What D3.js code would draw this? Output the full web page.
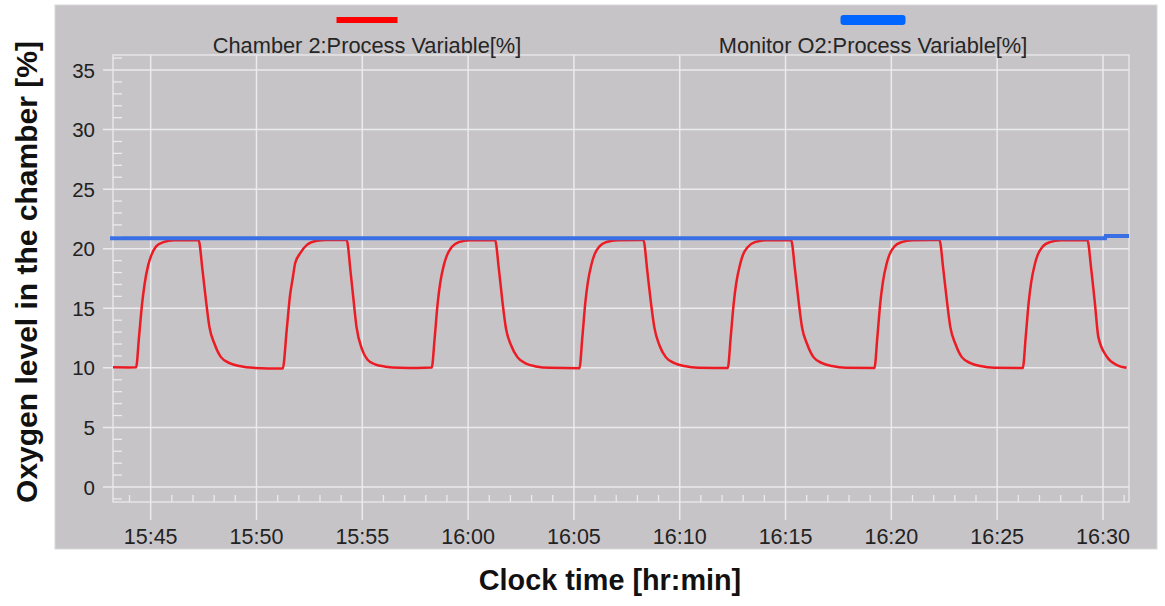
<!DOCTYPE html>
<html>
<head>
<meta charset="utf-8">
<script src="https://cdn.jsdelivr.net/npm/d3@7"></script>
<style>
  html, body { margin: 0; padding: 0; background: #ffffff; }
  svg { display: block; font-family: "Liberation Sans", Arial, sans-serif; }
</style>
</head>
<body>
<svg id="chart" width="1165" height="606"></svg>
<script>
// ---- data (time in minutes after 15:00) ----
const xTickLabels = ["15:45","15:50","15:55","16:00","16:05","16:10","16:15","16:20","16:25","16:30"];
const yTickValues = [0, 5, 10, 15, 20, 25, 30, 35];
const seriesNames = ["Chamber 2:Process Variable[%]", "Monitor O2:Process Variable[%]"];
const xDomainMinutes = [43.22, 91.23];
const yDomain = [0, 35];

const chamberMinutes = [
  43.22, 44.00, 44.31, 44.45, 44.59, 44.71, 44.88, 45.02, 45.26, 45.60, 46.10, 47.26,
  47.45, 47.61, 47.78, 48.02, 48.32, 48.73, 49.20, 49.86, 51.24,
  51.43, 51.58, 51.72, 51.83, 52.06, 52.37, 52.85, 53.30, 54.26,
  54.45, 54.58, 54.73, 54.98, 55.24, 55.60, 56.10, 56.80, 57.60, 58.28,
  58.42, 58.56, 58.68, 58.85, 58.99, 59.23, 59.56, 60.08, 61.27,
  61.46, 61.62, 61.79, 62.03, 62.33, 62.74, 63.21, 63.87, 65.26,
  65.40, 65.54, 65.66, 65.83, 65.97, 66.21, 66.54, 67.06, 68.28,
  68.47, 68.63, 68.80, 69.04, 69.34, 69.75, 70.22, 70.88, 72.27,
  72.41, 72.55, 72.67, 72.84, 72.98, 73.22, 73.55, 74.07, 75.26,
  75.45, 75.61, 75.78, 76.02, 76.32, 76.73, 77.20, 77.86, 79.20,
  79.34, 79.48, 79.60, 79.77, 79.91, 80.15, 80.48, 81.00, 82.27,
  82.46, 82.62, 82.79, 83.03, 83.33, 83.74, 84.21, 84.87, 86.21,
  86.35, 86.49, 86.61, 86.78, 86.92, 87.16, 87.49, 88.01, 89.26,
  89.45, 89.62, 89.78, 90.18, 90.65, 91.12
];
const chamberO2 = [
  10.05, 10.04, 10.05, 12.6, 15.3, 17.0, 18.6, 19.4, 20.2, 20.55, 20.72, 20.74,
  18.2, 15.7, 13.4, 12.0, 10.9, 10.4, 10.15, 10.0, 9.95,
  13.2, 16.0, 17.6, 18.8, 19.6, 20.3, 20.66, 20.73, 20.74,
  18.0, 15.8, 13.4, 11.6, 10.7, 10.3, 10.1, 10.0, 9.98, 10.02,
  12.5, 15.4, 17.1, 18.6, 19.4, 20.15, 20.55, 20.72, 20.74,
  18.2, 15.6, 13.3, 11.9, 10.9, 10.35, 10.12, 10.0, 9.97,
  12.6, 15.5, 17.2, 18.7, 19.5, 20.2, 20.56, 20.72, 20.74,
  18.1, 15.6, 13.4, 11.9, 10.9, 10.4, 10.15, 10.0, 9.98,
  12.6, 15.4, 17.1, 18.6, 19.45, 20.15, 20.55, 20.72, 20.74,
  18.2, 15.7, 13.4, 12.0, 10.9, 10.4, 10.15, 10.0, 9.98,
  12.6, 15.5, 17.2, 18.7, 19.5, 20.2, 20.55, 20.72, 20.74,
  18.2, 15.7, 13.4, 12.0, 10.9, 10.4, 10.15, 10.0, 9.98,
  12.6, 15.5, 17.2, 18.7, 19.5, 20.2, 20.55, 20.72, 20.74,
  18.2, 15.4, 12.6, 10.94, 10.24, 10.0
];

const monitorMinutes = [43.08, 90.10, 90.13, 91.23];
const monitorO2 = [20.87, 20.87, 21.06, 21.06];

// ---- layout ----
const svg = d3.select("#chart");
const W = 1165, H = 606;
const plot = { left: 113, right: 1129, top: 55, bottom: 502 };
const panel = { x: 55, y: 5, w: 1102, h: 544 };
const gridColor = "#ebeaec";

const toMinutes = s => { const [h, m] = s.split(":").map(Number); return (h - 15) * 60 + m; };

const x = d3.scaleLinear().domain(xDomainMinutes).range([plot.left, plot.right]);
const y = d3.scaleLinear().domain(yDomain).range([487, 70]);

svg.append("rect").attr("width", W).attr("height", H).attr("fill", "#ffffff");
svg.append("rect")
  .attr("x", panel.x).attr("y", panel.y).attr("width", panel.w).attr("height", panel.h)
  .attr("fill", "#c6c4c7").attr("stroke", "#d9d8da").attr("stroke-width", 1);

// horizontal gridlines
svg.append("g").selectAll("line").data(yTickValues).join("line")
  .attr("x1", plot.left - 10).attr("x2", plot.right)
  .attr("y1", d => y(d)).attr("y2", d => y(d))
  .attr("stroke", gridColor).attr("stroke-width", 1.5);

// vertical gridlines
const xTickMins = xTickLabels.map(toMinutes);
svg.append("g").selectAll("line").data(xTickMins).join("line")
  .attr("x1", d => x(d)).attr("x2", d => x(d))
  .attr("y1", plot.top).attr("y2", plot.bottom + 18)
  .attr("stroke", gridColor).attr("stroke-width", 1.5);

// plot frame
svg.append("rect")
  .attr("x", plot.left).attr("y", plot.top)
  .attr("width", plot.right - plot.left).attr("height", plot.bottom - plot.top)
  .attr("fill", "none").attr("stroke", gridColor).attr("stroke-width", 1.3);

// minor y ticks
const yMinor = d3.range(Math.ceil(y.invert(plot.bottom)), Math.floor(y.invert(plot.top)) + 1).filter(v => v % 5 !== 0);
svg.append("g").selectAll("line").data(yMinor).join("line")
  .attr("x1", plot.left).attr("x2", plot.left + 9)
  .attr("y1", d => y(d)).attr("y2", d => y(d))
  .attr("stroke", gridColor).attr("stroke-width", 1.3);

// minor x ticks
const xMinor = d3.range(Math.ceil(xDomainMinutes[0]), Math.floor(xDomainMinutes[1]) + 1).filter(m => m % 5 !== 0);
svg.append("g").selectAll("line").data(xMinor).join("line")
  .attr("x1", d => x(d)).attr("x2", d => x(d))
  .attr("y1", plot.bottom).attr("y2", plot.bottom - 7)
  .attr("stroke", gridColor).attr("stroke-width", 1.3);

// tick labels
svg.append("g").selectAll("text").data(yTickValues).join("text")
  .attr("x", 95).attr("y", d => y(d) + 7.5)
  .attr("text-anchor", "end").attr("font-size", 20.5).attr("fill", "#222")
  .text(d => d);
svg.append("g").selectAll("text").data(xTickLabels).join("text")
  .attr("x", d => x(toMinutes(d))).attr("y", 544)
  .attr("text-anchor", "middle").attr("font-size", 21.5).attr("fill", "#222")
  .text(d => d);

// lines
const line = d3.line().x(d => x(d[0])).y(d => y(d[1])).curve(d3.curveMonotoneX);
const chamberData = chamberMinutes.map((m, i) => [m, chamberO2[i]]);
const monitorData = monitorMinutes.map((m, i) => [m, monitorO2[i]]);

svg.append("path").datum(chamberData).attr("d", line)
  .attr("fill", "none").attr("stroke", "#ec1c24").attr("stroke-width", 2.5)
  .attr("stroke-linejoin", "round");
svg.append("path").datum(monitorData)
  .attr("d", d3.line().x(d => x(d[0])).y(d => y(d[1])))
  .attr("fill", "none").attr("stroke", "#3a6fe3").attr("stroke-width", 4);

// legend
const legend = [
  { name: seriesNames[0], cx: 367, color: "#ff0000", bh: 6, by: 17, bw: 61 },
  { name: seriesNames[1], cx: 873, color: "#0066ff", bh: 10, by: 15, bw: 65 }
];
const lg = svg.append("g");
legend.forEach(l => {
  lg.append("rect").attr("x", l.cx - l.bw / 2).attr("y", l.by).attr("width", l.bw).attr("height", l.bh)
    .attr("rx", l.bh > 6 ? 3 : 0).attr("fill", l.color);
  lg.append("text").attr("x", l.cx).attr("y", 53).attr("text-anchor", "middle")
    .attr("font-size", 21.8).attr("fill", "#262626").text(l.name);
});

// axis titles
svg.append("text").attr("x", 610).attr("y", 590).attr("text-anchor", "middle")
  .attr("font-size", 28.8).attr("font-weight", "bold").attr("fill", "#111")
  .text("Clock time [hr:min]");
svg.append("text").attr("transform", "translate(37,272) rotate(-90)").attr("text-anchor", "middle")
  .attr("font-size", 30).attr("font-weight", "bold").attr("fill", "#111")
  .text("Oxygen level in the chamber [%]");
</script>
</body>
</html>
